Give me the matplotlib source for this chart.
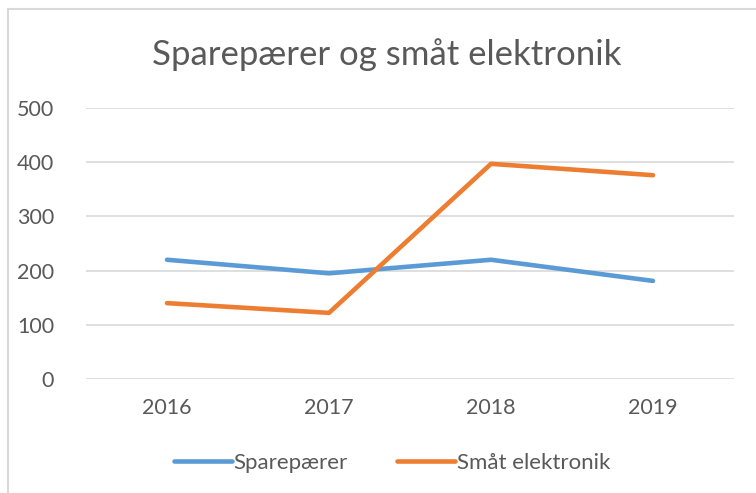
import matplotlib.pyplot as plt
from matplotlib.patches import Rectangle

years = ['2016', '2017', '2018', '2019']
sparepaerer = [220, 195, 220, 181]
smaat_elektronik = [140, 122, 397, 376]
yticks = [0, 100, 200, 300, 400, 500]

plt.rcParams['font.family'] = ['Lato', 'DejaVu Sans']

W, H = 756, 493
fig = plt.figure(figsize=(W / 100, H / 100), dpi=100)

# chart frame (runs off the right and bottom of the picture)
fig.patches.append(Rectangle((8 / W, -0.2), 1.2, (H - 9) / H + 0.2, transform=fig.transFigure,
                             fill=False, edgecolor='#d9d9d9', linewidth=1.5))

ax = fig.add_axes([86 / W, (H - 379) / H, (734 - 86) / W, (379 - 108) / H])
x = range(len(years))
ax.plot(x, sparepaerer, color='#5B9BD5', linewidth=3.3, solid_capstyle='round', label='Sparepærer')
ax.plot(x, smaat_elektronik, color='#ED7D31', linewidth=3.3, solid_capstyle='round', label='Småt elektronik')

ax.set_xlim(-0.5, 3.5)
ax.set_ylim(0, 500)
ax.set_yticks(yticks)
ax.set_xticks(list(x))
ax.set_xticklabels(years)
ax.yaxis.grid(True, color='#d9d9d9', linewidth=1.2)
ax.set_axisbelow(True)
for s in ax.spines.values():
    s.set_visible(False)
ax.tick_params(length=0, labelsize=15.5, colors='#595959')
ax.tick_params(axis='y', pad=23)
ax.tick_params(axis='x', pad=14)

fig.text(387 / W, (H - 55) / H, 'Sparepærer og småt elektronik', ha='center', va='center',
         fontsize=25, color='#595959')

leg = fig.legend(loc='center', bbox_to_anchor=(392 / W, (H - 463) / H), ncol=2, frameon=False,
                 fontsize=16, handlelength=2.6, handletextpad=0.1, columnspacing=2.2)
for t in leg.get_texts():
    t.set_color('#595959')

fig.savefig('out.png', dpi=100)
